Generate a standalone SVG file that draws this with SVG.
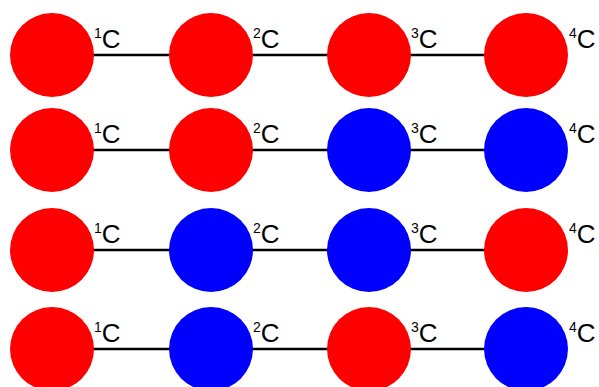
<svg xmlns="http://www.w3.org/2000/svg" width="599" height="387" viewBox="0 0 599 387">
<style>
.r{fill:#ff0000}
.b{fill:#0000ff}
.ln{stroke:#000;stroke-width:2.6;fill:none}
text{font-family:"Liberation Sans",Arial,sans-serif;fill:#000;font-size:26px}
.s{font-size:14px}
</style>
<rect width="599" height="387" fill="#fff"/>
<g id="connectors">
<line class="ln" x1="52" y1="55" x2="526" y2="55"/>
<line class="ln" x1="52" y1="150" x2="526" y2="150"/>
<line class="ln" x1="52" y1="250" x2="526" y2="250"/>
<line class="ln" x1="52" y1="349" x2="526" y2="349"/>
</g>
<g id="row1">
<g id="n1-1"><circle class="r" cx="52" cy="55" r="42"/><text x="94" y="48"><tspan class="s" dy="-10">1</tspan><tspan dy="10">C</tspan></text></g>
<g id="n1-2"><circle class="r" cx="211" cy="55" r="42"/><text x="253" y="48"><tspan class="s" dy="-10">2</tspan><tspan dy="10">C</tspan></text></g>
<g id="n1-3"><circle class="r" cx="369" cy="55" r="42"/><text x="411" y="48"><tspan class="s" dy="-10">3</tspan><tspan dy="10">C</tspan></text></g>
<g id="n1-4"><circle class="r" cx="526" cy="55" r="42"/><text x="569" y="48"><tspan class="s" dy="-10">4</tspan><tspan dy="10">C</tspan></text></g>
</g>
<g id="row2">
<g id="n2-1"><circle class="r" cx="52" cy="150" r="42"/><text x="94" y="143"><tspan class="s" dy="-10">1</tspan><tspan dy="10">C</tspan></text></g>
<g id="n2-2"><circle class="r" cx="211" cy="150" r="42"/><text x="253" y="143"><tspan class="s" dy="-10">2</tspan><tspan dy="10">C</tspan></text></g>
<g id="n2-3"><circle class="b" cx="369" cy="150" r="42"/><text x="411" y="143"><tspan class="s" dy="-10">3</tspan><tspan dy="10">C</tspan></text></g>
<g id="n2-4"><circle class="b" cx="526" cy="150" r="42"/><text x="569" y="143"><tspan class="s" dy="-10">4</tspan><tspan dy="10">C</tspan></text></g>
</g>
<g id="row3">
<g id="n3-1"><circle class="r" cx="52" cy="250" r="42"/><text x="94" y="243"><tspan class="s" dy="-10">1</tspan><tspan dy="10">C</tspan></text></g>
<g id="n3-2"><circle class="b" cx="211" cy="250" r="42"/><text x="253" y="243"><tspan class="s" dy="-10">2</tspan><tspan dy="10">C</tspan></text></g>
<g id="n3-3"><circle class="b" cx="369" cy="250" r="42"/><text x="411" y="243"><tspan class="s" dy="-10">3</tspan><tspan dy="10">C</tspan></text></g>
<g id="n3-4"><circle class="r" cx="526" cy="250" r="42"/><text x="569" y="243"><tspan class="s" dy="-10">4</tspan><tspan dy="10">C</tspan></text></g>
</g>
<g id="row4">
<g id="n4-1"><circle class="r" cx="52" cy="349" r="42"/><text x="94" y="342"><tspan class="s" dy="-10">1</tspan><tspan dy="10">C</tspan></text></g>
<g id="n4-2"><circle class="b" cx="211" cy="349" r="42"/><text x="253" y="342"><tspan class="s" dy="-10">2</tspan><tspan dy="10">C</tspan></text></g>
<g id="n4-3"><circle class="r" cx="369" cy="349" r="42"/><text x="411" y="342"><tspan class="s" dy="-10">3</tspan><tspan dy="10">C</tspan></text></g>
<g id="n4-4"><circle class="b" cx="526" cy="349" r="42"/><text x="569" y="342"><tspan class="s" dy="-10">4</tspan><tspan dy="10">C</tspan></text></g>
</g>
</svg>
